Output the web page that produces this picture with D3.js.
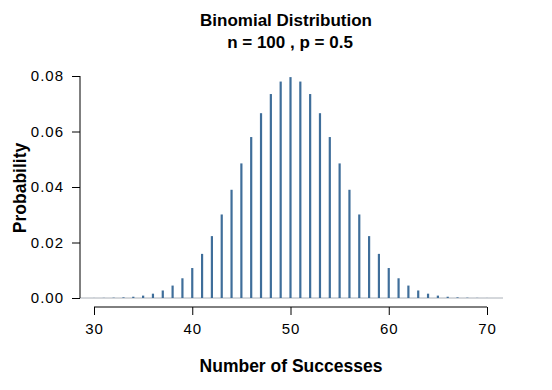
<!DOCTYPE html>
<meta charset="utf-8">
<html>
<head>
  <script src="https://d3js.org/d3.v7.min.js"></script>
  <style>
    body { margin: 0; background: #fff; font-family: "Liberation Sans", Arial, sans-serif; }
    .tick text { font-size: 15px; font-family: "Liberation Sans", Arial, sans-serif; letter-spacing: 1px; fill: #000; }
  </style>
</head>
<body>
<div id="chart"></div>
<script>
// successes k = 30..70 and their probabilities
var successes = d3.range(30, 71);
var probs = [
  0.000023, 0.000052, 0.000112, 0.000232, 0.000458, 0.000864, 0.00156, 0.00271, 0.00448, 0.00711,
  0.0108, 0.0159, 0.0223, 0.0301, 0.0390, 0.0485, 0.0580, 0.0666, 0.0735, 0.0780,
  0.0796,
  0.0780, 0.0735, 0.0666, 0.0580, 0.0485, 0.0390, 0.0301, 0.0223, 0.0159, 0.0108,
  0.00711, 0.00448, 0.00271, 0.00156, 0.000864, 0.000458, 0.000232, 0.000112, 0.000052, 0.000023
];
var xTicks = [30, 40, 50, 60, 70];
var yTicks = [0, 0.02, 0.04, 0.06, 0.08];

var W = 552, H = 390;
var svg = d3.select("#chart").append("svg").attr("width", W).attr("height", H);

var x = d3.scaleLinear().domain([30, 70]).range([94, 487]);
var y = d3.scaleLinear().domain([0, 0.08]).range([298, 76]);

// title
svg.append("text").attr("x", 286).attr("y", 26).attr("text-anchor", "middle")
  .style("font-weight", "bold").style("font-size", "17px").text("Binomial Distribution");
svg.append("text").attr("x", 290).attr("y", 48).attr("text-anchor", "middle")
  .style("font-weight", "bold").style("font-size", "17px").text("n = 100 , p = 0.5");

// baseline
svg.append("line").attr("x1", 80).attr("x2", 503).attr("y1", y(0)).attr("y2", y(0))
  .attr("stroke", "#aab0b8").attr("stroke-width", 1);

// spikes
svg.selectAll("line.spike").data(successes).enter().append("line")
  .attr("class", "spike")
  .attr("x1", function(d) { return x(d); }).attr("x2", function(d) { return x(d); })
  .attr("y1", y(0)).attr("y2", function(d, i) { return y(probs[i]); })
  .attr("stroke", "#3f6e9a").attr("stroke-width", 2.2);

// y axis
var yAxis = svg.append("g").attr("transform", "translate(80,0)")
  .call(d3.axisLeft(y).tickValues(yTicks).tickFormat(d3.format(".2f")).tickSize(8).tickPadding(8));
yAxis.select(".domain").attr("d", "M0," + y(0) + "V" + y(0.08));

// x axis
var xAxis = svg.append("g").attr("transform", "translate(0,307)")
  .call(d3.axisBottom(x).tickValues(xTicks).tickSize(8).tickPadding(8));
xAxis.select(".domain").attr("d", "M" + x(30) + ",0H" + x(70));

// axis titles
svg.append("text").attr("x", 291).attr("y", 372).attr("text-anchor", "middle")
  .style("font-weight", "bold").style("font-size", "17.5px").text("Number of Successes");
svg.append("text").attr("transform", "translate(26,188)rotate(-90)").attr("text-anchor", "middle")
  .style("font-weight", "bold").style("font-size", "17.5px").text("Probability");
</script>
</body>
</html>
